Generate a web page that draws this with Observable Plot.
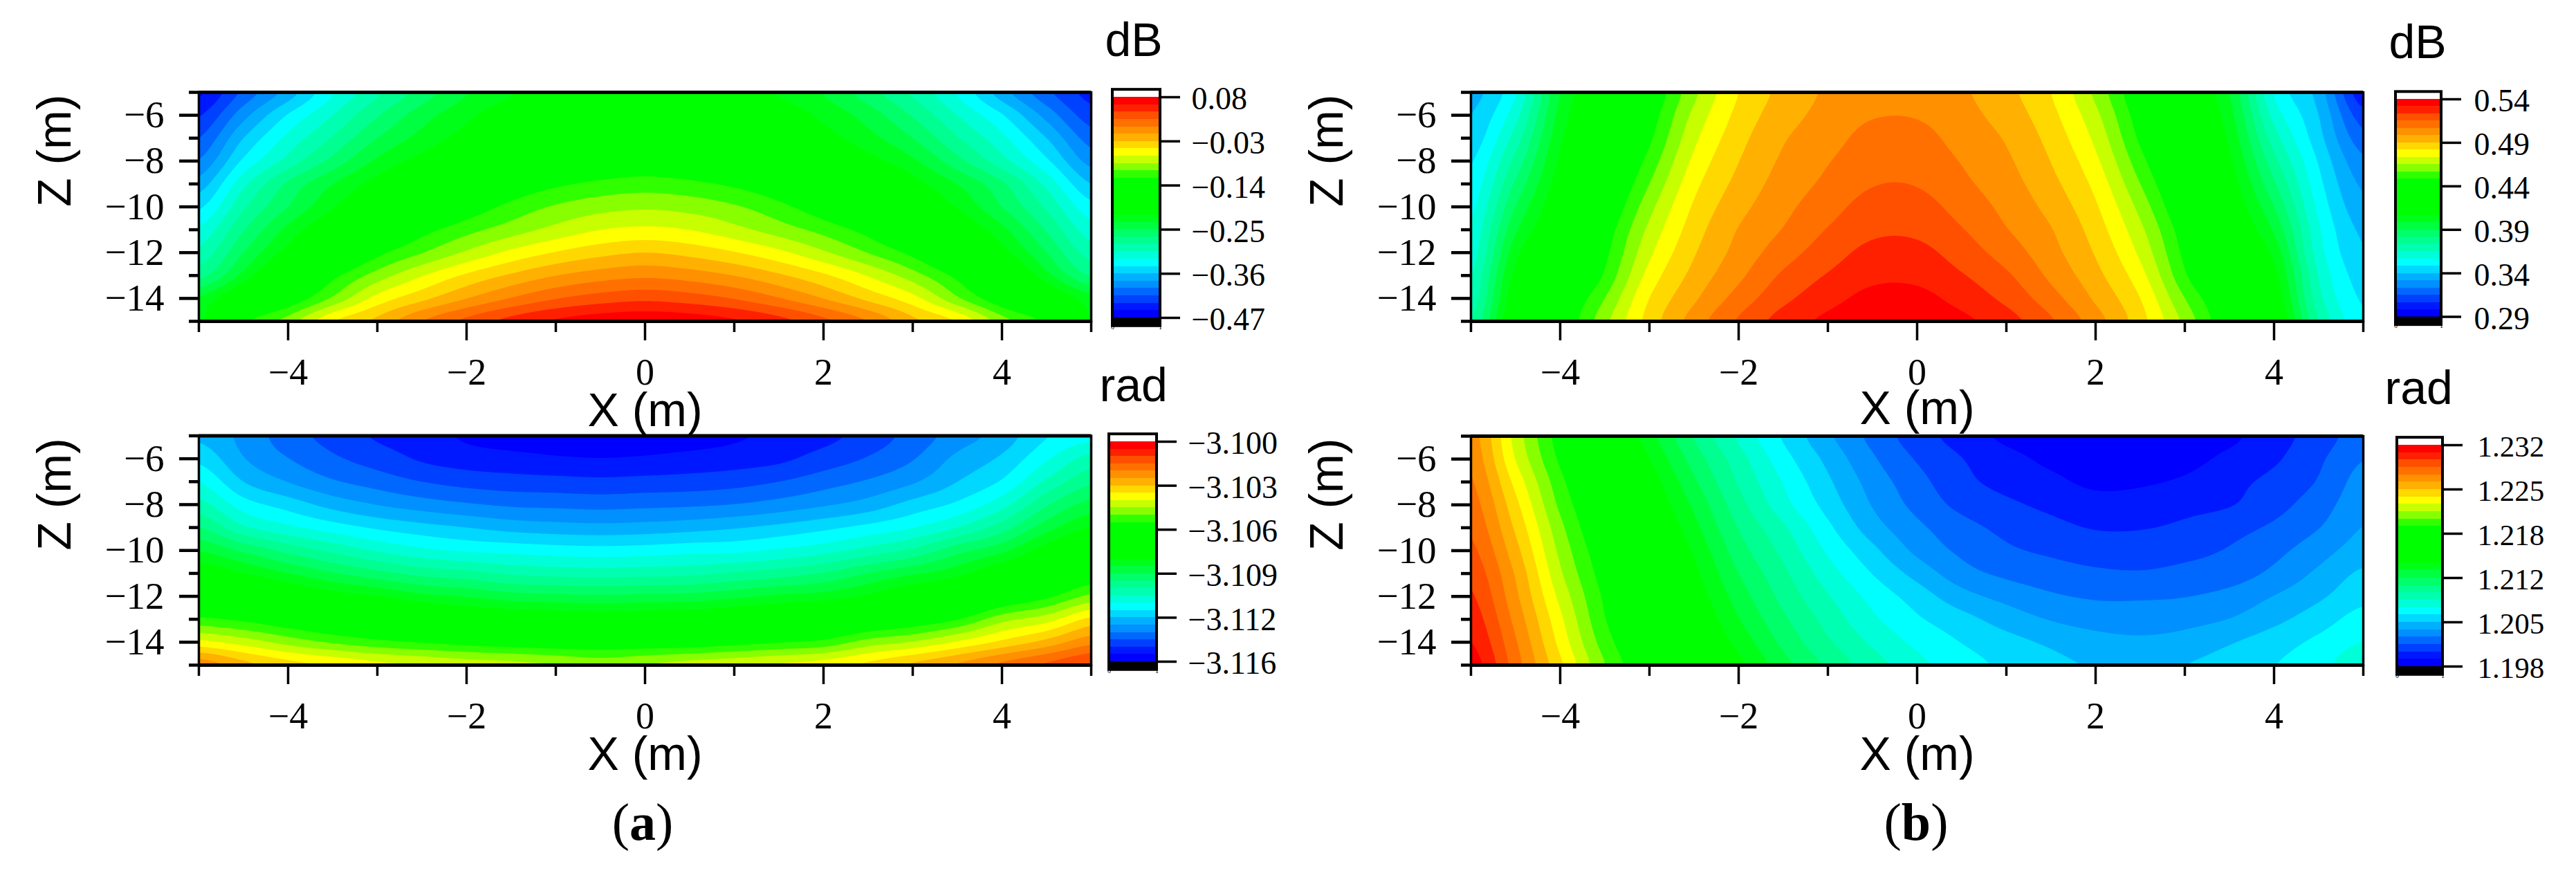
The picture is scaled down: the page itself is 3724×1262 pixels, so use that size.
<!DOCTYPE html>
<html><head><meta charset="utf-8">
<script src="https://cdn.jsdelivr.net/npm/d3@7"></script>
<script src="https://cdn.jsdelivr.net/npm/@observablehq/plot@0.6"></script>
<style>
html,body{margin:0;padding:0;background:#fff;overflow:hidden}
#fig{position:relative;width:3724px;height:1262px;background:#fff}
#fig svg{position:absolute;left:0;top:0;max-width:none}
.cap{position:absolute;font-family:"Liberation Serif",serif;font-size:76px;line-height:76px;color:#000;transform:translateX(-50%);white-space:nowrap}
</style></head><body><div id="fig"></div>
<script>
// band colours of the legend, lowest band first
const bandColors = ["#0000ff","#0018ff","#0040ff","#0068ff","#0090ff","#00b0ff","#00d8ff","#00ffff","#00ffd8","#00ffb0",
  "#00ff90","#00ff68","#00ff40","#00ff18","#00ff00","#00ff00","#00ff00","#00ff00","#00ff00","#30ff00",
  "#88ff00","#c8ff00","#ffff00","#ffd800","#ffb000","#ff9000","#ff7000","#ff5000","#ff2000","#ff0000"];

// sample positions of the fields
const xColumns = [-5,-4.5,-4,-3.5,-3,-2.5,-2,-1.5,-1,-.5,0,.5,1,1.5,2,2.5,3,3.5,4,4.5,5];
const zRows = [-5,-6,-7,-8,-9,-10,-11,-12,-13,-14,-15];

const magnitudeA = [
[-.455,-.41,-.37,-.325,-.29,-.26,-.233,-.215,-.2,-.195,-.195,-.195,-.2,-.215,-.233,-.26,-.29,-.325,-.37,-.41,-.44],
[-.435,-.385,-.34,-.305,-.27,-.24,-.218,-.2,-.19,-.186,-.185,-.186,-.19,-.2,-.218,-.24,-.27,-.305,-.34,-.385,-.425],
[-.415,-.36,-.318,-.285,-.25,-.225,-.205,-.19,-.178,-.172,-.17,-.172,-.178,-.19,-.205,-.225,-.25,-.285,-.318,-.36,-.405],
[-.395,-.338,-.298,-.262,-.228,-.205,-.186,-.17,-.156,-.146,-.14,-.146,-.156,-.17,-.186,-.205,-.228,-.262,-.298,-.338,-.385],
[-.37,-.31,-.265,-.232,-.205,-.178,-.158,-.14,-.126,-.117,-.113,-.117,-.126,-.14,-.158,-.178,-.205,-.232,-.265,-.31,-.36],
[-.345,-.29,-.25,-.215,-.186,-.16,-.136,-.116,-.101,-.092,-.088,-.092,-.101,-.116,-.136,-.16,-.186,-.215,-.25,-.29,-.335],
[-.32,-.27,-.226,-.19,-.158,-.13,-.11,-.094,-.079,-.067,-.0625,-.067,-.079,-.094,-.11,-.13,-.158,-.19,-.226,-.27,-.315],
[-.3,-.25,-.205,-.165,-.128,-.104,-.082,-.062,-.047,-.036,-.03,-.036,-.047,-.062,-.082,-.104,-.128,-.165,-.205,-.25,-.295],
[-.275,-.225,-.17,-.128,-.095,-.068,-.045,-.027,-.012,-.002,.003,-.002,-.012,-.027,-.045,-.068,-.095,-.128,-.17,-.225,-.27],
[-.23,-.18,-.14,-.1,-.06,-.035,-.012,.008,.024,.034,.039,.034,.024,.008,-.012,-.035,-.06,-.1,-.14,-.18,-.225],
[-.22,-.13,-.095,-.05,-.025,.006,.03,.05,.064,.072,.075,.072,.064,.05,.03,.006,-.025,-.05,-.095,-.13,-.215]];

const phaseA = [
[-3.1129,-3.1135,-3.11415,-3.1146,-3.1150,-3.1152,-3.11555,-3.1157,-3.11575,-3.1158,-3.11575,-3.1157,-3.11555,-3.1153,-3.1151,-3.1147,-3.1142,-3.1136,-3.1131,-3.1123,-3.1119],
[-3.1124,-3.1133,-3.11385,-3.1143,-3.11465,-3.1150,-3.1152,-3.1153,-3.1154,-3.11545,-3.1154,-3.1153,-3.1152,-3.11505,-3.1147,-3.11435,-3.1139,-3.1132,-3.1127,-3.1118,-3.1110],
[-3.11175,-3.1128,-3.11335,-3.1138,-3.1141,-3.1144,-3.1146,-3.1147,-3.11475,-3.1148,-3.11475,-3.1147,-3.1146,-3.1144,-3.1141,-3.1138,-3.1134,-3.1128,-3.1122,-3.1111,-3.11025],
[-3.1110,-3.1120,-3.1125,-3.1130,-3.11335,-3.1136,-3.1138,-3.11395,-3.1140,-3.11405,-3.1140,-3.11395,-3.11385,-3.11365,-3.1134,-3.1131,-3.1126,-3.11215,-3.1114,-3.1102,-3.1094],
[-3.1101,-3.1111,-3.1116,-3.1120,-3.11235,-3.1126,-3.1128,-3.1130,-3.1131,-3.11315,-3.1131,-3.1130,-3.11285,-3.11265,-3.1124,-3.1121,-3.11175,-3.1112,-3.1104,-3.1093,-3.1085],
[-3.1091,-3.1097,-3.1103,-3.1108,-3.11125,-3.1116,-3.1118,-3.1119,-3.1120,-3.11205,-3.1120,-3.1119,-3.11185,-3.11165,-3.1114,-3.1110,-3.11055,-3.1098,-3.1092,-3.1082,-3.1074],
[-3.1080,-3.1085,-3.10905,-3.10955,-3.10995,-3.1103,-3.1105,-3.11075,-3.11085,-3.1109,-3.11085,-3.1108,-3.1106,-3.1104,-3.1101,-3.1096,-3.10915,-3.1087,-3.1079,-3.1072,-3.1064],
[-3.1069,-3.1072,-3.1077,-3.1082,-3.1085,-3.1089,-3.1091,-3.10935,-3.10945,-3.1095,-3.10945,-3.1094,-3.1092,-3.10895,-3.1088,-3.1084,-3.1078,-3.1074,-3.1066,-3.1060,-3.1052],
[-3.10575,-3.1060,-3.1064,-3.1068,-3.1071,-3.1074,-3.1077,-3.10785,-3.10795,-3.1080,-3.10795,-3.1079,-3.1077,-3.1075,-3.1072,-3.1068,-3.1064,-3.1059,-3.1050,-3.1045,-3.1036],
[-3.1041,-3.1045,-3.1050,-3.1054,-3.1057,-3.1059,-3.1061,-3.10625,-3.10635,-3.1064,-3.10635,-3.1063,-3.1061,-3.1059,-3.1057,-3.1051,-3.10475,-3.1042,-3.1036,-3.1030,-3.1023],
[-3.1023,-3.1030,-3.1035,-3.1038,-3.1041,-3.1043,-3.1045,-3.1046,-3.1048,-3.1050,-3.1048,-3.10455,-3.1044,-3.1042,-3.1040,-3.1036,-3.1031,-3.1026,-3.1020,-3.1015,-3.1010]];

const magnitudeB = [
[.3365,.356,.3983,.4188,.4393,.463,.4817,.4925,.4995,.5025,.5025,.4995,.4925,.4817,.463,.4393,.4188,.3983,.356,.3365,.30],
[.34,.362,.4016,.4222,.443,.4672,.4842,.4947,.5012,.506,.506,.5012,.4947,.4842,.4672,.443,.4222,.4016,.362,.34,.31],
[.343,.369,.405,.4258,.4466,.4712,.487,.4975,.5035,.5095,.5095,.5035,.4975,.487,.4712,.4466,.4258,.405,.369,.343,.318],
[.3475,.376,.4085,.4293,.4515,.4752,.4898,.4997,.5062,.5118,.5118,.5062,.4997,.4898,.4752,.4515,.4293,.4085,.376,.3475,.325],
[.351,.383,.412,.4333,.4567,.4792,.4925,.5018,.5085,.5145,.5145,.5085,.5018,.4925,.4792,.4567,.4333,.412,.383,.351,.33],
[.3545,.39,.4157,.4375,.4622,.4828,.4955,.5043,.5118,.5183,.5183,.5118,.5043,.4955,.4828,.4622,.4375,.4157,.39,.3545,.334],
[.358,.397,.4193,.4425,.4671,.486,.4988,.5071,.5155,.5215,.5215,.5155,.5071,.4988,.486,.4671,.4425,.4193,.397,.358,.338],
[.3605,.404,.4233,.4458,.4715,.4892,.5012,.5112,.5195,.5258,.5258,.5195,.5112,.5012,.4892,.4715,.4458,.4233,.404,.3605,.341],
[.3645,.41,.4272,.4497,.4765,.4927,.5048,.5164,.524,.5295,.5295,.524,.5164,.5048,.4927,.4765,.4497,.4272,.41,.3645,.344],
[.368,.415,.4357,.4567,.4817,.4969,.5101,.5212,.5285,.5345,.5345,.5285,.5212,.5101,.4969,.4817,.4567,.4357,.415,.368,.347],
[.373,.42,.4389,.4625,.4852,.502,.516,.5268,.5337,.5392,.5392,.5337,.5268,.516,.502,.4852,.4625,.4389,.42,.373,.35]];

const phaseB = [
[1.2269,1.2225,1.2189,1.2161,1.2132,1.2104,1.2080,1.2058,1.2039,1.2022,1.2008,1.1998,1.1989,1.1986,1.1984,1.1984,1.1986,1.1989,1.1998,1.2008,1.2020],
[1.2272,1.2229,1.2193,1.2166,1.2139,1.2111,1.2087,1.2064,1.2045,1.2027,1.2013,1.2003,1.1995,1.1989,1.1986,1.1986,1.1988,1.1994,1.2001,1.2012,1.2025],
[1.2276,1.2237,1.2199,1.2172,1.2146,1.2118,1.2092,1.2070,1.2050,1.2032,1.2018,1.2006,1.1999,1.1994,1.1989,1.1990,1.1993,1.1999,1.2006,1.2015,1.2030],
[1.2280,1.2244,1.2204,1.2177,1.2151,1.2125,1.2098,1.2075,1.2055,1.2036,1.2022,1.2011,1.2005,1.2000,1.1996,1.1996,1.1999,1.2002,1.2010,1.2020,1.2033],
[1.2284,1.2250,1.2210,1.2180,1.2156,1.2131,1.2104,1.2084,1.2062,1.2042,1.2028,1.2018,1.2011,1.2006,1.2002,1.2002,1.2005,1.2010,1.2016,1.2025,1.2037],
[1.2289,1.2256,1.2215,1.2185,1.2161,1.2137,1.2110,1.2090,1.2069,1.2051,1.2034,1.2023,1.2016,1.2012,1.2009,1.2009,1.2011,1.2015,1.2022,1.2032,1.2042],
[1.2294,1.2262,1.2220,1.2189,1.2166,1.2142,1.2116,1.2096,1.2076,1.2059,1.2044,1.2030,1.2023,1.2019,1.2016,1.2015,1.2017,1.2020,1.2028,1.2039,1.2050],
[1.2299,1.2266,1.2226,1.2193,1.2171,1.2147,1.2122,1.2101,1.2083,1.2067,1.2054,1.2041,1.2033,1.2027,1.2024,1.2024,1.2025,1.2029,1.2037,1.2046,1.2056],
[1.2304,1.2271,1.2232,1.2196,1.2175,1.2152,1.2128,1.2107,1.2089,1.2073,1.2061,1.2052,1.2043,1.2036,1.2032,1.2031,1.2033,1.2037,1.2045,1.2054,1.2064],
[1.2309,1.2276,1.2237,1.2201,1.2178,1.2156,1.2135,1.2113,1.2095,1.2080,1.2068,1.2059,1.2052,1.2046,1.2041,1.2039,1.2041,1.2047,1.2054,1.2062,1.2071],
[1.2315,1.2280,1.2243,1.2207,1.2181,1.2161,1.2142,1.2120,1.2102,1.2087,1.2074,1.2064,1.2057,1.2051,1.2047,1.2046,1.2048,1.2053,1.2059,1.2067,1.2079]];

// tick values of the colour bars and their printed labels, lowest first
const ticksMagA = [-0.47,-0.36,-0.25,-0.14,-0.03,0.08];
const labelsMagA = ["−0.47","−0.36","−0.25","−0.14","−0.03","0.08"];
const ticksPhaseA = [-3.116,-3.1128,-3.1096,-3.1064,-3.1032,-3.1];
const labelsPhaseA = ["−3.116","−3.112","−3.109","−3.106","−3.103","−3.100"];
const ticksMagB = [0.29,0.34,0.39,0.44,0.49,0.54];
const labelsMagB = ["0.29","0.34","0.39","0.44","0.49","0.54"];
const ticksPhaseB = [1.198,1.2048,1.2116,1.2184,1.2252,1.232];
const labelsPhaseB = ["1.198","1.205","1.212","1.218","1.225","1.232"];

const xMajor = [-4,-2,0,2,4], xMinor = [-5,-3,-1,1,3,5];
const zMajor = [-6,-8,-10,-12,-14], zMinor = [-5,-7,-9,-11,-13,-15];

const W = 3724, H = 1262;
const SERIF = '"Liberation Serif",serif', SANS = '"Liberation Sans",sans-serif';
const fig = document.getElementById("fig");

// Contouring helper for Plot's interpolate option: a smooth (Catmull-Rom) surface through the samples.
function smoothSurface(index, w, h, X, Y, V) {
  const nc = xColumns.length, nr = zRows.length, out = new Float64Array(w * h);
  const x0 = X[0], dx = (X[nc - 1] - x0) / (nc - 1), y0 = Y[0], dy = (Y[nc * (nr - 1)] - y0) / (nr - 1);
  const at = (r, c) => V[Math.max(0, Math.min(nr - 1, r)) * nc + Math.max(0, Math.min(nc - 1, c))];
  const cr = (a, b, c, d, t) => b + 0.5 * t * (c - a + t * (2 * a - 5 * b + 4 * c - d + t * (3 * (b - c) + d - a)));
  for (let j = 0; j < h; ++j) {
    const ry = Math.max(0, Math.min(nr - 1.000001, (j + 0.5 - y0) / dy)), r = Math.floor(ry), tr = ry - r;
    for (let i = 0; i < w; ++i) {
      const cx = Math.max(0, Math.min(nc - 1.000001, (i + 0.5 - x0) / dx)), c = Math.floor(cx), tc = cx - c;
      const row = k => cr(at(r + k, c - 1), at(r + k, c), at(r + k, c + 1), at(r + k, c + 2), tc);
      out[j * w + i] = cr(row(-1), row(0), row(1), row(2), tr);
    }
  }
  return out;
}

function panel(p) {
  const n = bandColors.length, lo = p.ticks[0], hi = p.ticks[5], step = (hi - lo) / n;
  const edges = bandColors.map((_, i) => lo + i * step);
  const colour = {type: "threshold", domain: edges.slice(1), range: bandColors};
  const contourLevels = [lo - (hi - lo), ...edges.slice(1)];
  const samples = zRows.flatMap((z, r) => xColumns.map((x, c) => ({x, z, v: p.grid[r][c]})));

  fig.append(Plot.plot({
    width: W, height: H,
    marginLeft: p.left, marginRight: W - p.right, marginTop: p.top, marginBottom: H - p.bottom,
    style: {background: "transparent", fontFamily: SERIF, color: "#000"},
    x: {domain: [-5, 5]}, y: {domain: [-15, -5]}, color: colour,
    marks: [
      Plot.contour(samples, {x: "x", y: "z", value: "v", fill: "value", pixelSize: 2,
        interpolate: smoothSurface, thresholds: contourLevels, clip: true}),
      Plot.frame({stroke: "#000", strokeWidth: 3.5}),
      Plot.ruleY([-5, -15], {stroke: "#000", strokeWidth: 5}),
      Plot.axisX({ticks: xMajor, anchor: "bottom", tickSize: 28, tickPadding: 25, fontSize: 54, strokeWidth: 3.5, label: null}),
      Plot.axisX({ticks: xMinor, anchor: "bottom", tickSize: 16, tickFormat: () => "", strokeWidth: 3.5, label: null}),
      Plot.axisY({ticks: zMajor, anchor: "left", tickSize: 28, tickPadding: 22, fontSize: 55, strokeWidth: 4.5, label: null}),
      Plot.axisY({ticks: zMinor, anchor: "left", tickSize: 14, tickFormat: () => "", strokeWidth: 4.5, label: null}),
      Plot.text(["X (m)"], {frameAnchor: "bottom", dy: p.xLabelDy, lineAnchor: "bottom", fontSize: 68, fontFamily: SANS, fill: "#000"}),
      Plot.text(["Z (m)"], {frameAnchor: "left", dx: p.zLabelDx, rotate: -90, fontSize: 68, fontFamily: SANS, fill: "#000"})
    ]
  }));

  const bands = edges.map(e => ({y1: e, y2: e + step, band: e + step / 2}));
  const capHi = hi + (hi - lo) * 0.034, capLo = lo - (hi - lo) * 0.037;
  fig.append(Plot.plot({
    width: W, height: H,
    marginLeft: p.barLeft, marginRight: W - p.barRight, marginTop: p.yHi, marginBottom: H - p.yLo,
    style: {background: "transparent", fontFamily: SERIF, color: "#000"},
    x: {domain: [0, 1]}, y: {domain: [lo, hi]}, color: colour,
    marks: [
      Plot.rect(bands, {x1: () => 0, x2: () => 1, y1: "y1", y2: "y2", fill: "band", shapeRendering: "crispEdges"}),
      Plot.rect([{a: capLo, b: lo}], {x1: () => 0, x2: () => 1, y1: "a", y2: "b", fill: "#000"}),
      Plot.rect([{a: capLo, b: capHi}], {x1: () => 0, x2: () => 1, y1: "a", y2: "b", fill: "none", stroke: "#000", strokeWidth: 4}),
      Plot.axisY({ticks: p.ticks, anchor: "right", tickSize: 28, tickFormat: () => "", strokeWidth: 3.5, label: null}),
      Plot.axisY({ticks: p.ticks, anchor: "right", tickSize: 0, tickPadding: 28 + p.barPad, dy: 3, fontSize: p.barFont, label: null,
        tickFormat: (d) => p.labels[p.ticks.indexOf(d)]}),
      Plot.text([p.unit], {frameAnchor: "top-left", dx: p.unitDx, dy: p.unitDy, lineAnchor: "bottom", textAnchor: "start",
        fontSize: 68, fontFamily: SANS, fill: "#000"})
    ]
  }));
}

panel({grid: magnitudeA, ticks: ticksMagA, labels: labelsMagA, unit: "dB",
  left: 287, right: 1577, top: 133, bottom: 464, xLabelDy: 151,
  zLabelDx: -207, barLeft: 1608, barRight: 1677, yHi: 140, yLo: 459, barPad: 17, barFont: 46, unitDx: -11, unitDy: -60});
panel({grid: phaseA, ticks: ticksPhaseA, labels: labelsPhaseA, unit: "rad",
  left: 287, right: 1577, top: 629.5, bottom: 961, xLabelDy: 151,
  zLabelDx: -207, barLeft: 1603, barRight: 1672, yHi: 638, yLo: 956, barPad: 17, barFont: 46, unitDx: -14, unitDy: -59});
panel({grid: magnitudeB, ticks: ticksMagB, labels: labelsMagB, unit: "dB",
  left: 2126, right: 3416, top: 133, bottom: 464, xLabelDy: 148,
  zLabelDx: -207, barLeft: 3463, barRight: 3529, yHi: 143, yLo: 457.5, barPad: 19, barFont: 46, unitDx: -10, unitDy: -60});
panel({grid: phaseB, ticks: ticksPhaseB, labels: labelsPhaseB, unit: "rad",
  left: 2126, right: 3416, top: 630, bottom: 961, xLabelDy: 151,
  zLabelDx: -207, barLeft: 3465, barRight: 3531, yHi: 643, yLo: 963, barPad: 22, barFont: 43, unitDx: -18, unitDy: -60});

for (const [html, x] of [["(<b>a</b>)", 929], ["(<b>b</b>)", 2770]]) {
  const d = document.createElement("div");
  d.className = "cap"; d.innerHTML = html; d.style.left = x + "px"; d.style.top = "1150px";
  fig.append(d);
}
</script></body></html>
